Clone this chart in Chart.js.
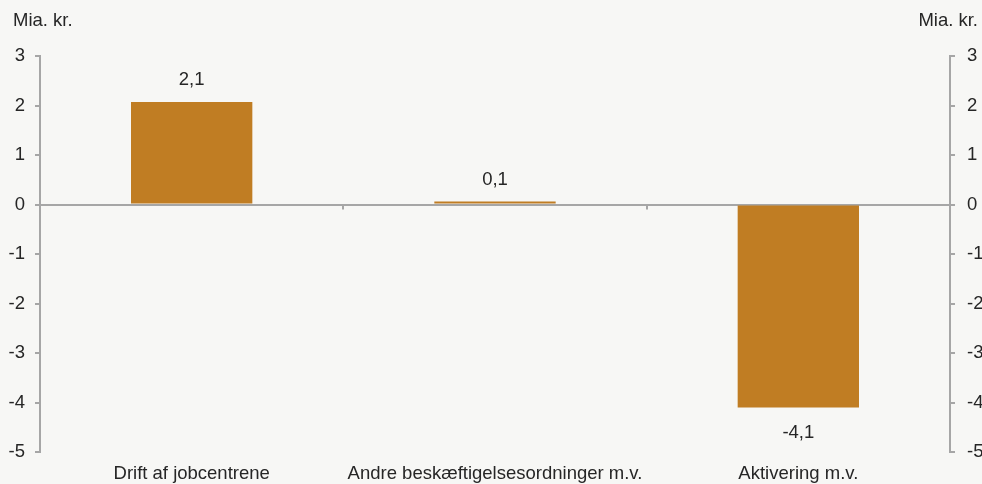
<!DOCTYPE html>
<html>
<head>
<meta charset="utf-8">
<script src="https://cdn.jsdelivr.net/npm/chart.js@4"></script>
<style>
  html, body { margin: 0; padding: 0; background: #f7f7f5; }
  #wrap { width: 982px; height: 484px; position: relative; }
</style>
</head>
<body>
<div id="wrap"><canvas id="chart1"></canvas></div>
<script>
var categories = ["Drift af jobcentrene", "Andre beskæftigelsesordninger m.v.", "Aktivering m.v."];
var values = [2.07, 0.06, -4.1];
var yTicks = [3, 2, 1, 0, -1, -2, -3, -4, -5];
var unitLabel = "Mia. kr.";

var axisGray = "#a6a6a6";
var textColor = "#262626";
var barColor = "#c07d23";
var font = { family: "Liberation Sans, Arial, sans-serif", size: 18.5 };

function fmt(v) {
  return v.toFixed(1).replace(".", ",");
}

var extras = {
  id: "extras",
  afterDatasetsDraw: function (chart) {
    var ctx = chart.ctx;
    var x = chart.scales.x;
    var y = chart.scales.y;
    var zero = y.getPixelForValue(0);
    ctx.save();
    // category boundary ticks on the zero line
    ctx.strokeStyle = axisGray;
    ctx.lineWidth = 2;
    for (var i = 0; i < categories.length - 1; i++) {
      var bx = Math.round((x.getPixelForValue(i) + x.getPixelForValue(i + 1)) / 2);
      ctx.beginPath();
      ctx.moveTo(bx, zero);
      ctx.lineTo(bx, zero + 5);
      ctx.stroke();
    }
    // value labels
    ctx.fillStyle = textColor;
    ctx.font = font.size + "px " + font.family;
    ctx.textAlign = "center";
    ctx.textBaseline = "middle";
    var meta = chart.getDatasetMeta(0);
    meta.data.forEach(function (bar, i) {
      var v = values[i];
      if (v >= 0) {
        ctx.fillText(fmt(v), bar.x, bar.y - 22);
      } else {
        ctx.fillText(fmt(v), bar.x, bar.y + 25);
      }
    });
    // unit labels
    ctx.textAlign = "left";
    ctx.fillText(unitLabel, 13, 21);
    ctx.textAlign = "right";
    ctx.fillText(unitLabel, 978, 21);
    ctx.restore();
  }
};

function yAxis(position, width) {
  return {
    type: "linear",
    position: position,
    display: true,
    min: -5,
    max: 3,
    afterBuildTicks: function (scale) {
      scale.ticks = yTicks.map(function (v) { return { value: v }; });
    },
    afterFit: function (scale) { scale.width = width; },
    border: { display: true, color: axisGray, width: 2 },
    grid: {
      drawOnChartArea: position === "left",
      color: function (c) { return c.tick && c.tick.value === 0 ? axisGray : "rgba(0,0,0,0)"; },
      lineWidth: 2,
      tickColor: axisGray,
      tickLength: 5
    },
    ticks: {
      color: textColor,
      font: font,
      padding: position === "left" ? 10 : 12,
      callback: function (v) { return String(v); }
    }
  };
}

function drawGraph() {
  var ctx = document.getElementById("chart1").getContext("2d");
  new Chart(ctx, {
    type: "bar",
    data: {
      labels: categories,
      datasets: [
        {
          data: values,
          backgroundColor: barColor,
          borderWidth: 0,
          categoryPercentage: 0.4,
          barPercentage: 1.0,
          yAxisID: "y"
        }
      ]
    },
    options: {
      responsive: true,
      maintainAspectRatio: false,
      animation: false,
      layout: { padding: { top: 56, left: 0, right: 0, bottom: 0 } },
      plugins: {
        legend: { display: false },
        tooltip: { enabled: false }
      },
      scales: {
        x: {
          offset: true,
          afterFit: function (scale) { scale.height = 32; },
          border: { display: false },
          grid: { display: false, drawTicks: false },
          ticks: { color: textColor, font: font, padding: 11, maxRotation: 0 }
        },
        y: yAxis("left", 40),
        y2: yAxis("right", 32)
      }
    },
    plugins: [extras]
  });
}
window.onload = drawGraph;
</script>
</body>
</html>
